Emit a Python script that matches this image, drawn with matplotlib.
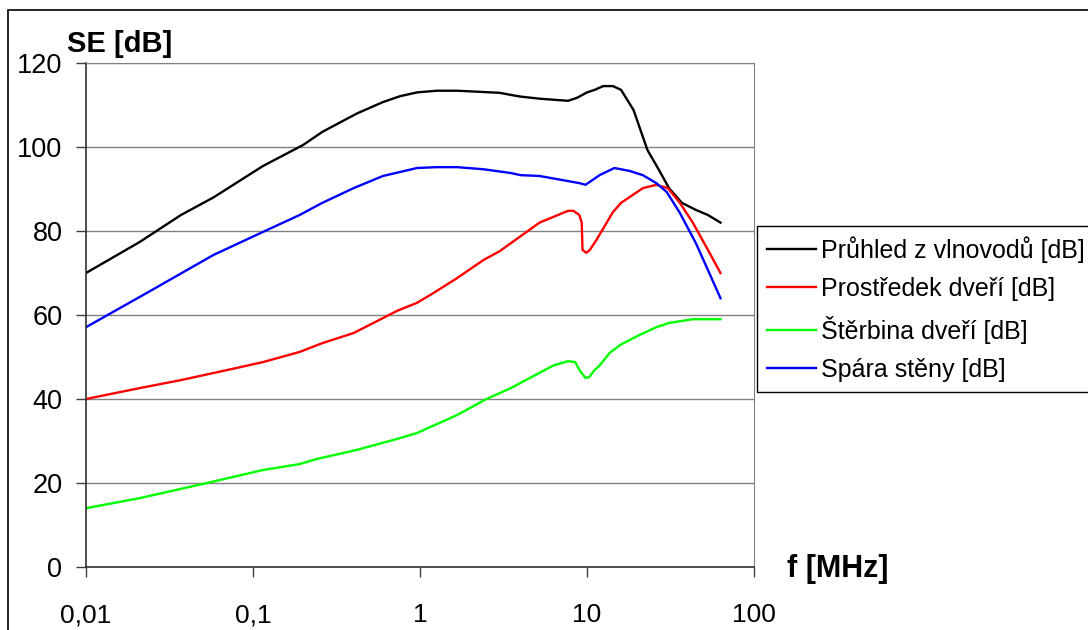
import numpy as np
import matplotlib
matplotlib.use("Agg")
import matplotlib.pyplot as plt
from matplotlib.patches import Rectangle

plt.rcParams['font.family'] = ['Liberation Sans', 'DejaVu Sans']

# frequencies [MHz] and shielding effectiveness [dB]
f_pruhled = [0.01, 0.021, 0.037, 0.058, 0.115, 0.2, 0.26, 0.42, 0.6, 0.76, 0.96, 1.26, 1.67,
             3.0, 3.5, 4.0, 5.2, 7.7, 8.7, 10.0, 11.1, 12.5, 14.3, 16.0, 19.0, 23.0, 27.0,
             31.0, 37.0, 45.0, 53.0, 63.0]
se_pruhled = [70, 77.4, 83.8, 88, 95.5, 100.5, 103.6, 108, 110.7, 112.1, 113, 113.4, 113.4,
              112.9, 112.4, 112, 111.5, 111, 111.7, 113, 113.6, 114.5, 114.5, 113.6, 108.8, 99.3, 94.5,
              90.2, 86.7, 85, 83.8, 82]

f_prostredek = [0.01, 0.021, 0.037, 0.08, 0.115, 0.19, 0.26, 0.4, 0.73, 0.96, 1.2, 1.67, 2.4,
                3.0, 3.5, 5.2, 7.7, 8.3, 9.0, 9.3, 9.4, 9.9, 10.4, 11.4, 14.3, 16.0, 21.6, 26.0,
                30.5, 36.0, 43.0, 53.0, 63.0]
se_prostredek = [40, 42.6, 44.5, 47.4, 48.8, 51.2, 53.3, 55.7, 61, 62.9, 65.2, 68.8, 73.1,
                 75.2, 77.1, 82, 84.8, 84.8, 83.8, 82, 75.5, 74.8, 75.5, 77.9, 84.5, 86.7, 90.2, 91,
                 90.2, 86.7, 82, 75.5, 70]

f_sterbina = [0.01, 0.021, 0.053, 0.115, 0.19, 0.24, 0.42, 0.73, 0.96, 1.67, 2.5, 3.0, 3.5,
              6.3, 7.7, 8.5, 9.0, 9.8, 10.3, 11.0, 11.9, 13.7, 16.0, 20.5, 26.0, 31.0, 43.0, 63.0]
se_sterbina = [14, 16.4, 20, 23.1, 24.5, 25.7, 27.9, 30.5, 31.9, 36.2, 40, 41.4, 42.6,
               48, 49, 48.8, 46.9, 45, 45.2, 46.7, 48, 51, 53, 55.2, 57.1, 58.1, 59, 59]

f_spara = [0.01, 0.023, 0.058, 0.115, 0.19, 0.26, 0.4, 0.6, 0.96, 1.26, 1.67, 2.4, 3.5,
           4.0, 5.2, 9.0, 9.8, 11.9, 14.6, 18.0, 21.6, 26.0, 30.0, 36.0, 45.0, 53.0, 63.0]
se_spara = [57.1, 65.2, 74.3, 79.8, 83.8, 86.7, 90.2, 93.1, 95, 95.2, 95.2, 94.7, 93.8,
            93.3, 93.1, 91.4, 91, 93.3, 95, 94.3, 93.3, 91.4, 89.3, 84.3, 77, 70.7, 64]

series_names = ["Průhled z vlnovodů [dB]", "Prostředek dveří [dB]",
                "Štěrbina dveří [dB]", "Spára stěny [dB]"]
series_colors = ["#000000", "#FF0000", "#00FF00", "#0000FF"]

x_ticks = [0.01, 0.1, 1, 10, 100]
x_tick_labels = ["0,01", "0,1", "1", "10", "100"]
y_ticks = [0, 20, 40, 60, 80, 100, 120]

fig = plt.figure(figsize=(10.88, 6.3), dpi=100)
ax = fig.add_axes([86 / 1088, 63 / 630, 668 / 1088, 504 / 630])

data = [(f_pruhled, se_pruhled), (f_prostredek, se_prostredek),
        (f_sterbina, se_sterbina), (f_spara, se_spara)]
for (f, se), name, col in zip(data, series_names, series_colors):
    ax.plot(f, se, color=col, lw=1.7, label=name, solid_joinstyle='round')

ax.set_xscale('log')
ax.set_xlim(0.01, 100)
ax.set_ylim(0, 120)
ax.set_xticks(x_ticks)
ax.set_xticklabels(x_tick_labels)
ax.xaxis.set_minor_locator(matplotlib.ticker.NullLocator())
ax.set_yticks(y_ticks)
ax.tick_params(axis='y', direction='out', length=7, width=1, color='#404040',
               labelsize=19.5, pad=10)
ax.tick_params(axis='x', direction='out', length=7, width=1, color='#404040',
               labelsize=19, pad=19)
ax.yaxis.grid(True, color='#808080', lw=1)
ax.set_axisbelow(True)

for s in ['top', 'right']:
    ax.spines[s].set_color('#808080')
for s in ['left', 'bottom']:
    ax.spines[s].set_color('#303030')
    ax.spines[s].set_linewidth(1.2)

fig.text(67 / 1088, 1 - 52 / 630, "SE [dB]", fontsize=21, fontweight='bold',
         ha='left', va='baseline')
fig.text(787 / 1088, 1 - 577 / 630, "f [MHz]", fontsize=22, fontweight='bold',
         ha='left', va='baseline')

leg = ax.legend(loc='upper left', bbox_to_anchor=(757 / 1088, 1 - 226 / 630),
                bbox_transform=fig.transFigure, fontsize=18, frameon=True,
                fancybox=False, framealpha=1, edgecolor='black', borderpad=0.4,
                handlelength=1.95, handletextpad=0.2, labelspacing=0.58,
                borderaxespad=0)
leg.get_frame().set_linewidth(1)
for line in leg.get_lines():
    line.set_linewidth(1.7)

fig.add_artist(Rectangle((8 / 1088, -0.2), 1.5, 1.2 - 10 / 630,
                         transform=fig.transFigure, fill=False,
                         edgecolor='black', lw=1.2))

fig.savefig("out.png", dpi=100)
